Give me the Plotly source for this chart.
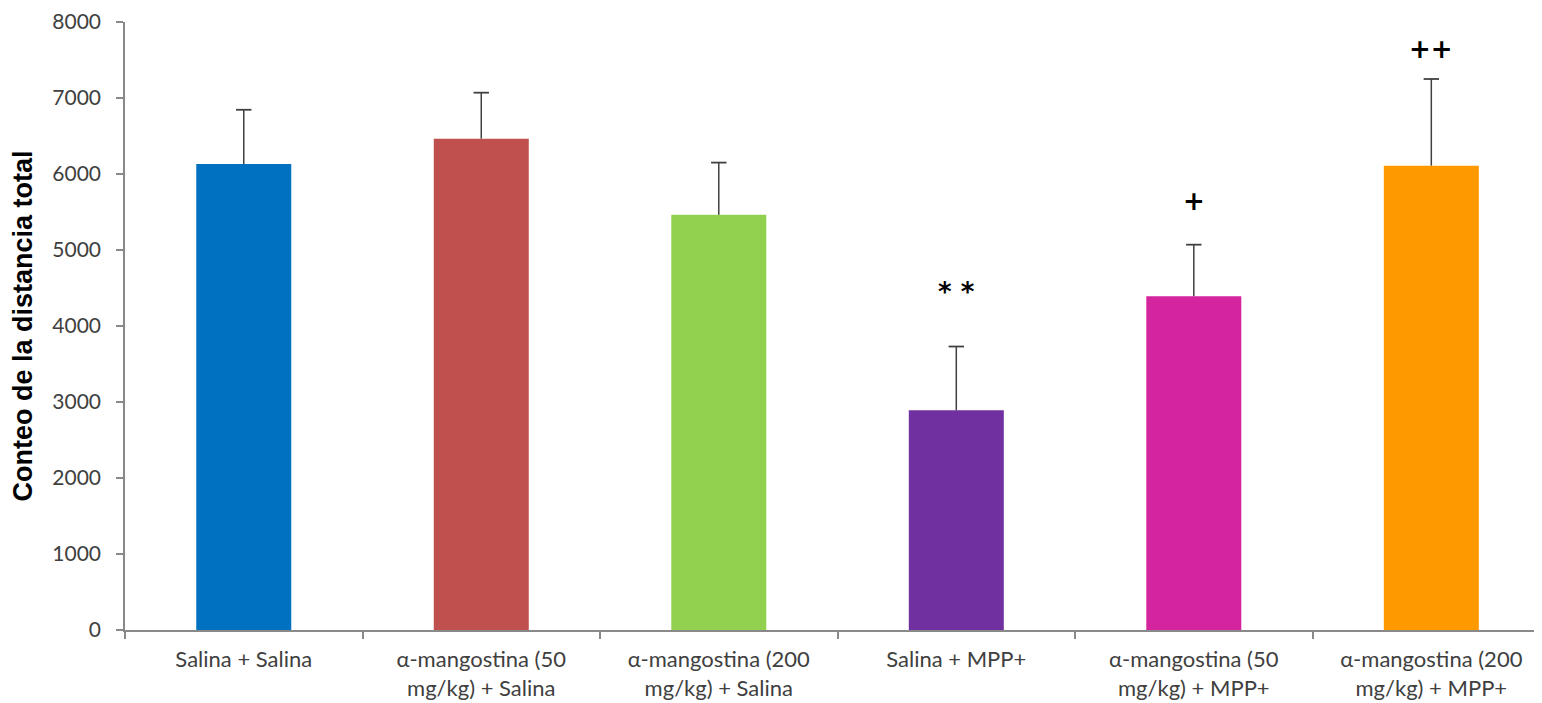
import plotly.graph_objects as go

categories = [
    "Salina + Salina",
    "α-mangostina (50<br>mg/kg) + Salina",
    "α-mangostina (200<br>mg/kg) + Salina",
    "Salina + MPP+",
    "α-mangostina (50<br>mg/kg) + MPP+",
    "α-mangostina (200<br>mg/kg) + MPP+",
]
means = [6130, 6465, 5465, 2890, 4390, 6110]
errors = [715, 605, 685, 840, 680, 1140]
colors = ["#0070C0", "#C0504D", "#92D050", "#7030A0", "#D4259F", "#FF9900"]
marks = ["", "", "", "* *", "+", "++"]
mark_y = [None, None, None, 4450, 5640, 7650]
y_ticks = [0, 1000, 2000, 3000, 4000, 5000, 6000, 7000, 8000]

tops = [m + e for m, e in zip(means, errors)]

fig = go.Figure()
fig.add_trace(go.Bar(
    x=categories, y=means, width=0.4,
    marker=dict(color=colors, line=dict(width=0)),
    error_y=dict(type="data", symmetric=False, array=errors,
                 arrayminus=[0] * len(errors), color="#404040",
                 thickness=1.5, width=0),
    showlegend=False, hoverinfo="skip",
))
fig.add_trace(go.Scatter(
    x=categories, y=tops, mode="markers",
    marker=dict(symbol="line-ew", size=11,
                line=dict(width=1.8, color="#404040")),
    showlegend=False, hoverinfo="skip",
))

for c, t, yv in zip(categories, marks, mark_y):
    if t:
        fig.add_annotation(
            x=c, y=yv, text="<b>%s</b>" % t, showarrow=False,
            font=dict(family="DejaVu Sans", size=26, color="#000000"),
        )

fig.update_layout(
    width=1534, height=695,
    margin=dict(l=117, r=0, t=14, b=73, autoexpand=False),
    paper_bgcolor="white", plot_bgcolor="white",
    font=dict(family="Lato", color="#404040"),
    bargap=0.6,
)
fig.update_xaxes(
    type="category", range=[-0.5, 5.466], automargin=False,
    showline=True, linecolor="#898989", linewidth=1.5,
    ticks="outside", ticklen=7, tickcolor="#898989", tickwidth=1.5,
    tickson="boundaries",
    tickfont=dict(family="Lato", size=22, color="#404040"),
    ticklabelstandoff=9,
    showgrid=False, zeroline=False,
)
fig.update_yaxes(
    range=[0, 8000], tickvals=y_ticks, automargin=False,
    showline=True, linecolor="#898989", linewidth=1.5,
    ticks="outside", ticklen=7, tickcolor="#898989", tickwidth=1.5,
    tickfont=dict(family="Lato", size=21, color="#404040"),
    ticklabelstandoff=11, ticklabeloverflow="allow",
    showgrid=False, zeroline=False,
    title=dict(text="<b>Conteo de la distancia total</b>",
               font=dict(family="Liberation Sans", size=27, color="#000000"),
               standoff=13),
)

fig.write_html("out.html")
